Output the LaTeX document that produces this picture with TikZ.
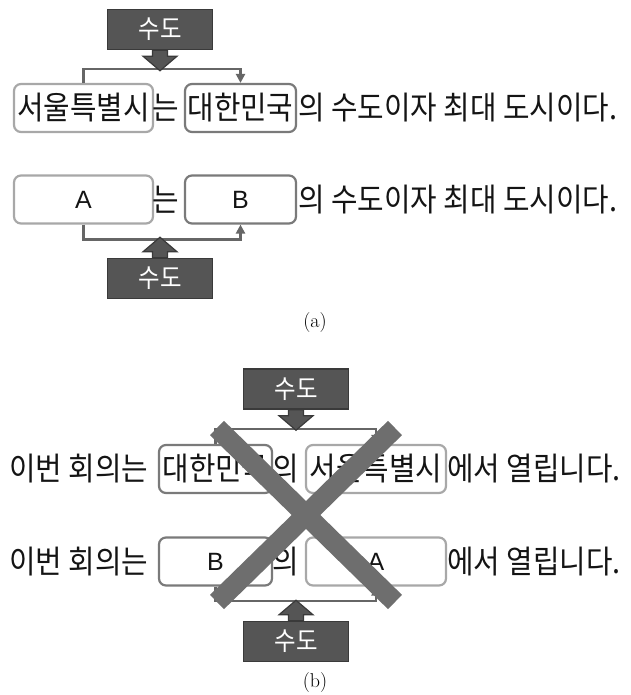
\documentclass[tikz,border=0pt]{standalone}
\usepackage{fontspec}
\newfontfamily\kr[FakeStretch=0.9]{Noto Sans CJK KR}
\newfontfamily\lsans{Liberation Sans}
\usetikzlibrary{arrows.meta,calc}
\definecolor{capfill}{HTML}{555555}
\definecolor{capedge}{HTML}{3A3A3A}
\definecolor{lightedge}{HTML}{A8A8A8}
\definecolor{darkedge}{HTML}{7A7A7A}
\definecolor{connc}{HTML}{666666}
\definecolor{crossc}{HTML}{6E6E6E}
\newcommand{\mkblkarrow}[2]{% #1 = anchor coordinate, #2 = direction (1 down, -1 up)
  \filldraw[blk] ($(#1)+(-7.5,0)$) -- ($(#1)+(-7.5,6*#2)$) -- ($(#1)+(-17,6*#2)$)
    -- ($(#1)+(0,20.5*#2)$) -- ($(#1)+(17,6*#2)$) -- ($(#1)+(7.5,6*#2)$) -- ($(#1)+(7.5,0)$) -- cycle;}
\begin{document}
\begin{tikzpicture}[x=1pt,y=-1pt,
  word/.style={inner sep=0pt, font=\kr\fontsize{32}{34}\selectfont, text=black!92},
  wbox/.style={rounded corners=7pt, line width=2.2pt, fill=white, inner sep=0pt,
    minimum height=48pt, font=\kr\fontsize{32}{34}\selectfont, text=black!92},
  lightbox/.style={wbox, draw=lightedge},
  darkbox/.style={wbox, draw=darkedge},
  letter/.style={font=\lsans\fontsize{25}{28}\selectfont},
  capbox/.style={draw=capedge, fill=capfill, line width=1.5pt, minimum width=105pt,
    minimum height=40pt, inner sep=0pt, text=white, font=\kr\fontsize{26}{28}\selectfont},
  blk/.style={draw=capedge, fill=capfill, line width=1.2pt, line join=miter},
  conn/.style={draw=connc, line width=2.4pt},
  tip/.style={-{Triangle[length=9pt,width=9pt]}},
  cap label/.style={font=\fontsize{20}{24}\selectfont}]
\useasboundingbox (0,0) rectangle (630,695);

% ---------- (a) ----------
\node[capbox] (capA) at (160,29.5) {수도};
\node[lightbox, minimum width=139pt] (seoulA) at (83.5,108) {서울특별시};
\node[word] (neunA) at (166,108) {는};
\node[darkbox, minimum width=111pt] (koreaA) at (240.5,108) {대한민국};
\node[word, anchor=west] (restA) at (298,108) {의 수도이자 최대 도시이다.};
\draw[conn, tip] (seoulA.north) -- ++(0,-14) -| (koreaA.north);
\mkblkarrow{capA.south}{1}

\node[lightbox, letter, minimum width=139pt] (boxA) at (83.5,199.5) {A};
\node[word] (neunA2) at (166,199.5) {는};
\node[darkbox, letter, minimum width=111pt] (boxB) at (240.5,199.5) {B};
\node[word, anchor=west] (restA2) at (298,199.5) {의 수도이자 최대 도시이다.};
\node[capbox] (capA2) at (160,278.5) {수도};
\draw[conn, tip] (boxA.south) -- ++(0,15) -| (boxB.south);
\mkblkarrow{capA2.north}{-1}

\node[cap label] (la) at (315,323) {(a)};

% ---------- (b) ----------
\node[capbox] (capB) at (296,389) {수도};
\node[word, anchor=west] (pre1) at (9,469) {이번 회의는};
\node[darkbox, minimum width=113pt] (koreaB) at (215.5,469) {대한민국};
\node[word] (ui1) at (285.5,469) {의};
\node[lightbox, minimum width=140pt] (seoulB) at (376,469) {서울특별시};
\node[word, anchor=west] (post1) at (447,469) {에서 열립니다.};
\draw[conn, tip] (koreaB.north) -- ++(0,-15) -| (seoulB.north);
\mkblkarrow{capB.south}{1}

\node[word, anchor=west] (pre2) at (9,561.5) {이번 회의는};
\node[darkbox, letter, minimum width=113pt] (bB) at (215.5,561.5) {B};
\node[word] (ui2) at (285.5,561.5) {의};
\node[lightbox, letter, minimum width=140pt] (aB) at (376,561.5) {A};
\node[word, anchor=west] (post2) at (447,561.5) {에서 열립니다.};
\node[capbox] (capB2) at (296,641.5) {수도};
\draw[conn, tip] (bB.south) -- ++(0,14.5) -| (aB.south);
\mkblkarrow{capB2.north}{-1}

% cross
\coordinate (xtl) at (217,428);
\coordinate (xtr) at (395,428);
\coordinate (xbl) at (217,602);
\coordinate (xbr) at (395,602);
\draw[crossc, line width=20pt] (xtl) -- (xbr);
\draw[crossc, line width=20pt] (xtr) -- (xbl);

\node[cap label] (lb) at (315,683) {(b)};
\end{tikzpicture}
\end{document}
